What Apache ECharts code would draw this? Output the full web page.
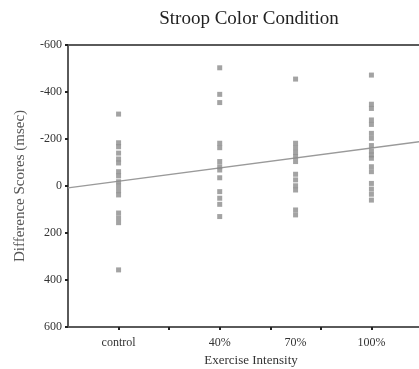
<!DOCTYPE html>
<html>
<head>
<meta charset="utf-8">
<script src="https://cdn.jsdelivr.net/npm/echarts@6/dist/echarts.min.js"></script>
<style>
  html, body { margin: 0; padding: 0; background: #fff; }
  #chart { width: 419px; height: 369px; }
</style>
</head>
<body>
<div id="chart"></div>
<script>
// intensity position of each group on the x scale
const groupPos = [0, 40, 70, 100]
const groupNames = ['control', '40%', '70%', '100%']

// difference scores (msec)
const controlScores = [-306, -184, -167, -140, -115, -98, -61, -43, -18, 0, 20, 38, 115, 136, 156, 357]
const pct40Scores = [-503, -390, -355, -182, -163, -104, -82, -68, -35, 24, 52, 78, 130]
const pct70Scores = [-455, -182, -163, -143, -125, -104, -50, -26, -1, 17, 102, 123]
const pct100Scores = [-472, -348, -330, -281, -262, -224, -203, -172, -149, -132, -118, -82, -61, -11, 13, 35, 60]

// fitted line, endpoints read at the plot edges
const fitX = [-20, 120]
const fitY = [8, -190]

const yTicks = [-600, -400, -200, 0, 200, 400, 600]

const groups = [controlScores, pct40Scores, pct70Scores, pct100Scores]
const points = []
groups.forEach((arr, i) => {
  arr.forEach(v => points.push([groupPos[i], v]))
})

const serif = 'Liberation Serif'
const axisColor = '#5a5a5a'

const chart = echarts.init(document.getElementById('chart'))
chart.setOption({
  animation: false,
  title: {
    text: 'Stroop Color Condition',
    left: 244,
    top: 5,
    textAlign: 'center',
    textStyle: { fontFamily: serif, fontSize: 19, fontWeight: 'normal', color: '#222' }
  },
  grid: { left: 68, right: -3, top: 45, bottom: 42, show: false, outerBoundsMode: 'none' },
  xAxis: [
    {
      type: 'value',
      min: -20,
      max: 120,
      interval: 20,
      name: 'Exercise Intensity',
      nameLocation: 'middle',
      nameGap: 25,
      nameTextStyle: { fontFamily: serif, fontSize: 13, color: '#333', padding: [0, 0, 0, 12] },
      splitLine: { show: false },
      axisLine: { onZero: false, lineStyle: { color: axisColor, width: 2 } },
      axisTick: { customValues: [0, 20, 40, 60, 80, 100], length: 3, lineStyle: { color: '#222', width: 2 } },
      axisLabel: {
        customValues: groupPos,
        formatter: v => groupNames[groupPos.indexOf(v)] || '',
        fontFamily: serif, fontSize: 12, color: '#333', margin: 10
      }
    },
    {
      type: 'value',
      position: 'top',
      min: -20,
      max: 120,
      axisLine: { show: true, onZero: false, lineStyle: { color: axisColor, width: 2 } },
      axisTick: { show: false },
      axisLabel: { show: false },
      splitLine: { show: false }
    }
  ],
  yAxis: {
    type: 'value',
    inverse: true,
    min: -600,
    max: 600,
    interval: 200,
    name: 'Difference Scores (msec)',
    nameLocation: 'middle',
    nameGap: 40,
    nameTextStyle: { fontFamily: serif, fontSize: 15, color: '#555' },
    splitLine: { show: false },
    axisLine: { show: true, onZero: false, lineStyle: { color: axisColor, width: 2 } },
    axisTick: { length: 3, lineStyle: { color: '#222', width: 2 } },
    axisLabel: {
      formatter: v => (yTicks.indexOf(v) >= 0 ? String(v) : ''),
      fontFamily: serif, fontSize: 12, color: '#333', margin: 6
    }
  },
  series: [
    {
      type: 'line',
      data: fitX.map((x, i) => [x, fitY[i]]),
      symbol: 'none',
      lineStyle: { color: '#9a9a9a', width: 1.5 },
      z: 1
    },
    {
      type: 'scatter',
      data: points,
      symbol: 'rect',
      symbolSize: 5,
      itemStyle: { color: '#8c8c8c' },
      z: 2
    }
  ]
})
</script>
</body>
</html>
